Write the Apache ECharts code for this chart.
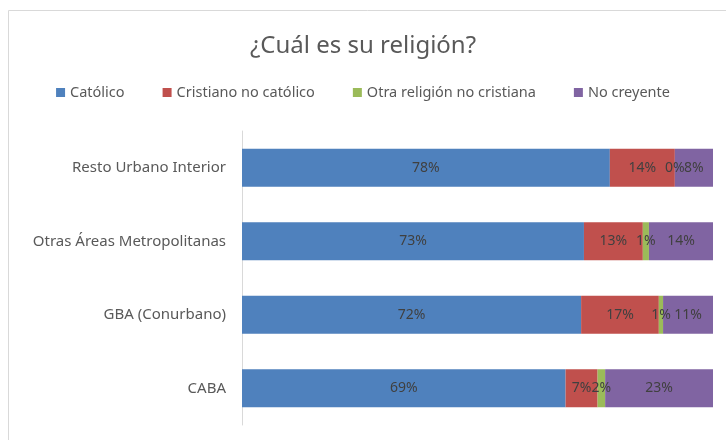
<!DOCTYPE html>
<html>
<head>
<meta charset="utf-8">
<script src="https://cdn.jsdelivr.net/npm/echarts@6/dist/echarts.min.js"></script>
<style>
  html, body { margin: 0; padding: 0; background: #fff; }
  #main { width: 726px; height: 440px; }
</style>
</head>
<body>
<div id="main"></div>
<script>
// categorías de abajo hacia arriba
const categories = ['CABA', 'GBA (Conurbano)', 'Otras Áreas Metropolitanas', 'Resto Urbano Interior'];
const seriesNames = ['Católico', 'Cristiano no católico', 'Otra religión no cristiana', 'No creyente'];
const catolico = [68.7, 72.0, 72.6, 78.1];
const cristiano = [6.8, 16.5, 12.5, 13.8];
const otra = [1.6, 0.9, 1.3, 0];
const noCreyente = [22.9, 10.6, 13.6, 8.1];
const colors = ['#4f81bd', '#c0504d', '#9bbb59', '#8064a2'];

const FONT = 'Noto Sans';
const chart = echarts.init(document.getElementById('main'));

function mk(name, data, color) {
  return {
    name: name,
    type: 'bar',
    stack: 'total',
    data: data,
    barWidth: 38,
    itemStyle: { color: color },
    label: {
      show: true,
      position: 'inside',
      color: '#404040',
      fontFamily: FONT,
      fontSize: 14,
      formatter: p => Math.round(p.value) + '%'
    }
  };
}

const option = {
  animation: false,
  textStyle: { fontFamily: FONT },
  title: {
    text: '¿Cuál es su religión?',
    left: 'center',
    top: 29,
    textStyle: { fontFamily: FONT, fontSize: 24, fontWeight: 'normal', color: '#595959' }
  },
  legend: {
    top: 80,
    left: 'center',
    itemWidth: 9,
    itemHeight: 9,
    itemGap: 38,
    icon: 'rect',
    textStyle: { fontFamily: FONT, fontSize: 14.5, color: '#595959' },
    data: seriesNames
  },
  graphic: [{
    type: 'rect',
    shape: { x: 8.5, y: 10.5, width: 740, height: 460 },
    style: { fill: 'none', stroke: '#d9d9d9', lineWidth: 1 },
    silent: true
  }],
  grid: { left: 242, right: 13, top: 131, bottom: 15 },
  xAxis: {
    type: 'value',
    min: 0,
    max: 100,
    show: false
  },
  yAxis: {
    type: 'category',
    data: categories,
    axisLine: { lineStyle: { color: '#d9d9d9' } },
    axisTick: { show: false },
    axisLabel: { fontFamily: FONT, fontSize: 15, color: '#595959', margin: 16 }
  },
  series: [
    mk(seriesNames[0], catolico, colors[0]),
    mk(seriesNames[1], cristiano, colors[1]),
    mk(seriesNames[2], otra, colors[2]),
    mk(seriesNames[3], noCreyente, colors[3])
  ]
};
chart.setOption(option);
window.onresize = function () { chart.resize(); };
</script>
</body>
</html>
